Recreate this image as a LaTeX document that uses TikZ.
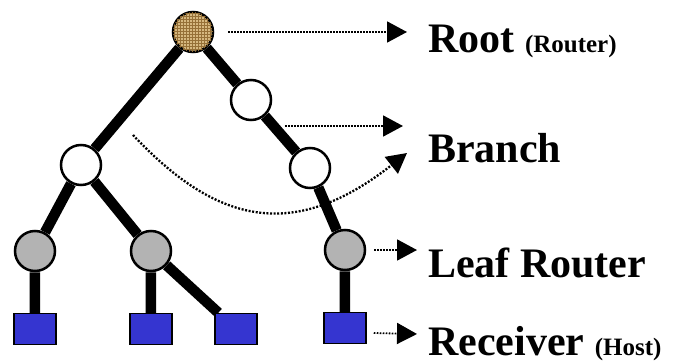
\documentclass[tikz,border=0pt]{standalone}
\usepackage{xcolor}
\usepackage{fontspec}
\setmainfont{Liberation Serif}
\usepackage{tikz}
\usetikzlibrary{positioning, arrows.meta, patterns, backgrounds}
\definecolor{roottan}{RGB}{214,184,128}
\definecolor{rootbrown}{RGB}{150,112,55}
\definecolor{leafgray}{RGB}{179,179,179}
\definecolor{hostblue}{RGB}{53,53,208}
\tikzstyle{router} = [circle, draw=black, line width=2.5pt, minimum size=40pt, inner sep=0pt]
\tikzstyle{rootrouter} = [router, fill=roottan, postaction={pattern=grid, pattern color=rootbrown}]
\tikzstyle{branchnode} = [router, fill=white]
\tikzstyle{leaf} = [router, fill=leafgray]
\tikzstyle{host} = [rectangle, draw=black, line width=1.5pt, fill=hostblue, minimum width=42pt, minimum height=31pt, inner sep=0pt]
\tikzstyle{link} = [line width=10.5pt]
\tikzstyle{pointer} = [line width=1.8pt, dash pattern=on 1.6pt off 1.4pt, -{Triangle[length=20pt,width=21pt]}]
\tikzstyle{caption} = [anchor=base west, inner sep=0pt, font=\fontsize{42}{46}\selectfont\bfseries]
\newcommand{\sub}[1]{{\fontsize{25}{28}\selectfont #1}}

\begin{document}
\begin{tikzpicture}[on grid]
        \useasboundingbox (-193pt,32pt) rectangle (488pt,-332pt);
        \node (root) [rootrouter] {};
        \node (brR) [branchnode, below right=68pt and 58pt of root] {};
        \node (midR) [branchnode, below right=68pt and 59pt of brR] {};
        \node (leafC) [leaf, below right=82pt and 35pt of midR] {};
        \node (brL) [branchnode, below left=133pt and 112pt of root] {};
        \node (leafA) [leaf, below left=86pt and 46pt of brL] {};
        \node (leafB) [leaf, below right=86pt and 70pt of brL] {};
        \node (rxA) [host, below=78pt of leafA] {};
        \node (rxB) [host, below=78pt of leafB] {};
        \node (rxC) [host, right=85pt of rxB] {};
        \node (rxD) [host, below=78pt of leafC] {};

        \begin{scope}[on background layer]
        \draw [link] (root) -- (brR) -- (midR) -- (leafC) -- (rxD);
        \draw [link] (root) -- (brL) -- (leafA) -- (rxA);
        \draw [link] (brL) -- (leafB) -- (rxB);
        \draw [link] (leafB) -- (rxC);
        \end{scope}

        \node (rootlbl) [caption] at (235pt,-21pt) {Root \sub{(Router)}};
        \node (branchlbl) [caption] at (235pt,-130pt) {Branch};
        \node (leaflbl) [caption] at (235pt,-245pt) {Leaf Router};
        \node (hostlbl) [caption] at (235pt,-323pt) {Receiver \sub{(Host)}};

        \coordinate (rootend) at (214pt,0pt);
        \coordinate (branchstart) at (92pt,-94pt);
        \coordinate (branchend) at (210pt,-94pt);
        \coordinate (arcstart) at (-60pt,-103pt);
        \coordinate (arcend) at (214pt,-121pt);
        \coordinate (leafend) at (224pt,-218pt);
        \coordinate (hostend) at (224pt,-302pt);

        \draw [pointer] ([xshift=14pt]root.east) -- (rootend);
        \draw [pointer] (branchstart) -- (branchend);
        \draw [pointer, line width=2.3pt, dash pattern=on 2pt off 1.6pt] (arcstart) .. controls (20pt,-188pt) and (97pt,-213pt) .. (arcend);
        \draw [pointer] ([xshift=8pt]leafC.east) -- (leafend);
        \draw [pointer] ([shift={(7pt,-5pt)}]rxD.east) -- (hostend);
    \end{tikzpicture}
\end{document}
